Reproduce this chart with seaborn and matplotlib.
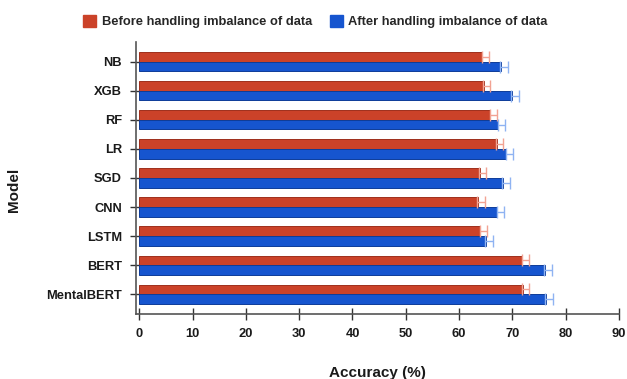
import matplotlib
matplotlib.use("Agg")
import matplotlib.pyplot as plt
import seaborn as sns
import pandas as pd
import numpy as np
from matplotlib.patches import Patch

models = ["NB", "XGB", "RF", "LR", "SGD", "CNN", "LSTM", "BERT", "MentalBERT"]
before = [64.4, 64.7, 65.9, 67.1, 63.9, 63.6, 64.0, 71.9, 72.0]
after = [67.8, 69.9, 67.4, 68.9, 68.3, 67.2, 65.0, 76.1, 76.3]
before_err = [1.2, 1.2, 1.2, 1.2, 1.2, 1.2, 1.2, 1.2, 1.2]
after_err = [1.3, 1.3, 1.3, 1.3, 1.3, 1.3, 1.3, 1.3, 1.3]
series = ["Before handling imbalance of data", "After handling imbalance of data"]
xticks = [0, 10, 20, 30, 40, 50, 60, 70, 80, 90]

df = pd.DataFrame({
    "Model": models * 2,
    "Accuracy": before + after,
    "Series": [series[0]] * len(models) + [series[1]] * len(models),
})

sns.set_theme(style="ticks")
plt.rcParams["font.family"] = ["Liberation Sans", "DejaVu Sans"]
plt.rcParams["font.weight"] = "bold"

red = "#CB4229"
blue = "#1655CF"
red_dark = "#9E2F1C"
blue_dark = "#0E3C99"
red_err = "#F2A393"
blue_err = "#8FB3F2"

fig = plt.figure(figsize=(6.27, 3.79), dpi=100)
ax = fig.add_axes([0.217, 0.171, 0.770, 0.718])

sns.barplot(data=df, y="Model", x="Accuracy", hue="Series", order=models,
            hue_order=series, palette=[red, blue], width=0.66, gap=0,
            orient="h", ax=ax, legend=False, errorbar=None, saturation=1)

edge_cols = [red_dark, blue_dark]
err_cols = [red_err, blue_err]
errs = [before_err, after_err]
bar_containers = list(ax.containers)[:2]
for ci, cont in enumerate(bar_containers):
    ys, xs = [], []
    for bar in cont.patches:
        bar.set_edgecolor(edge_cols[ci])
        bar.set_linewidth(0.7)
        ys.append(bar.get_y() + bar.get_height() / 2)
        xs.append(bar.get_width())
    upper = np.array(errs[ci])
    lower = np.full(len(upper), 0.15)
    ax.errorbar(xs, ys, xerr=[lower, upper], fmt="none", ecolor=err_cols[ci],
                elinewidth=1.0, capsize=4, capthick=1.0, zorder=5)

ax.set_xlim(-0.62, 90)
ax.set_ylim(len(models) - 1 + 0.69, -0.68)
ax.set_xticks(xticks)
ax.set_xticklabels([str(t) for t in xticks])
for s in ["top", "right"]:
    ax.spines[s].set_visible(False)
for s in ["left", "bottom"]:
    ax.spines[s].set_color("#555555")
    ax.spines[s].set_linewidth(1.2)

ax.tick_params(axis="y", direction="inout", length=8.6, width=1.0, color="#333333",
               labelsize=9.3, pad=6, labelcolor="#1a1a1a")
ax.tick_params(axis="x", direction="inout", length=8.6, width=1.0, color="#333333",
               labelsize=9.3, pad=5.8, labelcolor="#1a1a1a")
for lab in ax.get_xticklabels() + ax.get_yticklabels():
    lab.set_fontweight("bold")

ax.set_xlabel("Accuracy (%)", fontsize=11, fontweight="bold", color="#1a1a1a")
ax.set_ylabel("Model", fontsize=11, fontweight="bold", color="#1a1a1a")
ax.xaxis.set_label_coords(0.50, -0.19)
ax.yaxis.set_label_coords(-0.238, 0.456)

handles = [Patch(facecolor=red, edgecolor=red), Patch(facecolor=blue, edgecolor=blue)]
fig.legend(handles, series, loc="center", bbox_to_anchor=(0.503, 0.943), ncol=2,
           frameon=False, prop={"size": 9.3, "weight": "bold"}, handlelength=1.0,
           handleheight=1.0, columnspacing=1.4, handletextpad=0.4)

fig.savefig("out.png", dpi=100, facecolor="white")
